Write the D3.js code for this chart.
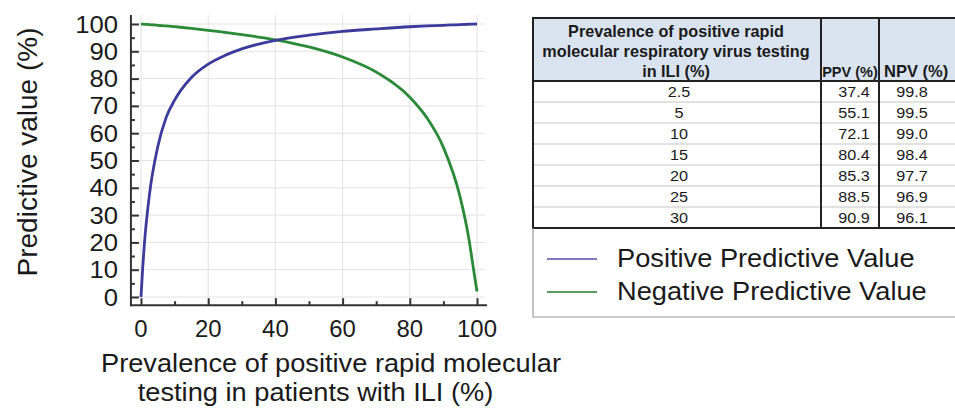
<!DOCTYPE html>
<html>
<head>
<meta charset="utf-8">
<script src="https://cdn.jsdelivr.net/npm/d3@7"></script>
<style>
  html, body { margin: 0; padding: 0; background: #fff; overflow: hidden; }
  svg { display: block; font-family: "Liberation Sans", Arial, sans-serif; }
</style>
</head>
<body>
<svg id="chart" width="955" height="412"></svg>
<script>
// ---- Data ----
const prevalence = [0, 0.5, 1, 2.5, 5, 7.5, 10, 15, 20, 25, 30, 40, 50, 60, 70, 80, 85, 90, 95, 97.5, 99, 100];
const ppvValues  = [0, 10.6, 19.3, 37.4, 55.1, 65.8, 72.1, 80.4, 85.3, 88.5, 90.9, 94.0, 95.9, 97.3, 98.2, 99.0, 99.3, 99.5, 99.8, 99.9, 99.95, 100];
const npvValues  = [100, 99.95, 99.9, 99.8, 99.5, 99.3, 99.0, 98.4, 97.7, 96.9, 96.1, 94.2, 91.6, 87.9, 82.4, 73.2, 65.8, 54.8, 36.5, 21.9, 9.9, 2];

const xTicks = [0, 20, 40, 60, 80, 100];
const yTicks = [0, 10, 20, 30, 40, 50, 60, 70, 80, 90, 100];

const tablePrevalence = ["2.5", "5", "10", "15", "20", "25", "30"];
const tablePPV = ["37.4", "55.1", "72.1", "80.4", "85.3", "88.5", "90.9"];
const tableNPV = ["99.8", "99.5", "99.0", "98.4", "97.7", "96.9", "96.1"];
const tableHeader = ["Prevalence of positive rapid", "molecular respiratory virus testing", "in ILI (%)"];

const seriesNames = ["Positive Predictive Value", "Negative Predictive Value"];
const seriesColors = ["#3b3b9c", "#2a8a38"];
const legendColors = ["#7c7ab8", "#5c9c5c"];

// ---- Chart ----
const svg = d3.select("#chart");
const x = d3.scaleLinear().domain([0, 100]).range([141, 477]);
const y = d3.scaleLinear().domain([0, 100]).range([297, 24]);
const axisX0 = x(-3), axisX1 = x(103);
const axisY0 = y(-3), axisY1 = y(103.3);

// grid
const grid = svg.append("g").attr("stroke", "#e3e3e3").attr("stroke-width", 1);
grid.selectAll("line.h").data(yTicks).join("line")
  .attr("x1", axisX0).attr("x2", axisX1 - 2)
  .attr("y1", d => y(d)).attr("y2", d => y(d));
grid.selectAll("line.v").data(xTicks).join("line")
  .attr("x1", d => x(d)).attr("x2", d => x(d))
  .attr("y1", axisY1).attr("y2", axisY0);

// axes lines
const axisColor = "#333";
svg.append("line").attr("x1", axisX0).attr("x2", axisX0).attr("y1", axisY1).attr("y2", axisY0 + 1)
  .attr("stroke", axisColor).attr("stroke-width", 2);
svg.append("line").attr("x1", axisX0 - 1).attr("x2", axisX1).attr("y1", axisY0).attr("y2", axisY0)
  .attr("stroke", axisColor).attr("stroke-width", 2);

// ticks via d3 axes
const yMajor = d3.axisRight(y).tickValues(yTicks).tickSize(8).tickFormat("");
const yMinor = d3.axisRight(y).tickValues(d3.range(5, 100, 10)).tickSize(4).tickFormat("");
const xMajor = d3.axisTop(x).tickValues(xTicks).tickSize(7).tickFormat("");
const xMinor = d3.axisTop(x).tickValues(d3.range(10, 100, 20)).tickSize(4).tickFormat("");
[[yMajor, `translate(${axisX0},0)`], [yMinor, `translate(${axisX0},0)`],
 [xMajor, `translate(0,${axisY0})`], [xMinor, `translate(0,${axisY0})`]].forEach(([ax, tr]) => {
  const g = svg.append("g").attr("transform", tr).call(ax);
  g.select(".domain").remove();
  g.selectAll(".tick line").attr("stroke", axisColor).attr("stroke-width", 2);
});

// helper for horizontally stretched text
function stext(parent, txt, px, py, size, anchor, sx, weight) {
  const g = parent.append("g").attr("transform", `translate(${px},${py}) scale(${sx},1)`);
  return g.append("text").text(txt).attr("font-size", size).attr("text-anchor", anchor)
    .attr("font-weight", weight || "normal").attr("fill", "#1a1a1a");
}

// tick labels
yTicks.forEach(t => stext(svg, String(t), 118, y(t) + 8.5, 24, "end", 1.07));
xTicks.forEach(t => stext(svg, String(t), x(t), 337, 23, "middle", 1.04));

// axis titles
svg.append("text").text("Predictive value (%)")
  .attr("transform", "translate(37,152) rotate(-90)")
  .attr("text-anchor", "middle").attr("font-size", 28).attr("fill", "#1a1a1a");
stext(svg, "Prevalence of positive rapid molecular", 331, 372, 25, "middle", 1.09);
stext(svg, "testing in patients with ILI (%)", 315.5, 401, 25, "middle", 1.09);

// curves
const pts = prevalence.map((p, i) => ({ p, ppv: ppvValues[i], npv: npvValues[i] }));
const lineP = d3.line().x(d => x(d.p)).y(d => y(d.ppv)).curve(d3.curveMonotoneX);
const lineN = d3.line().x(d => x(d.p)).y(d => y(d.npv)).curve(d3.curveMonotoneX);
svg.append("path").datum(pts).attr("d", lineN).attr("fill", "none")
  .attr("stroke", seriesColors[1]).attr("stroke-width", 2.8);
svg.append("path").datum(pts).attr("d", lineP).attr("fill", "none")
  .attr("stroke", seriesColors[0]).attr("stroke-width", 2.8);

// ---- Table ----
const T = { left: 533, top: 18, c1: 821, c2: 879, right: 964, headBottom: 81, rowH: 21 };
const tbl = svg.append("g");
tbl.append("rect").attr("x", T.left).attr("y", T.top).attr("width", T.right - T.left)
  .attr("height", T.headBottom - T.top).attr("fill", "#dae4f1");
const nRows = tablePrevalence.length;
const tableBottom = T.headBottom + nRows * T.rowH;
// row separators
tbl.selectAll("line.row").data(d3.range(1, nRows)).join("line")
  .attr("x1", T.left).attr("x2", T.right)
  .attr("y1", i => T.headBottom + i * T.rowH).attr("y2", i => T.headBottom + i * T.rowH)
  .attr("stroke", "#c4c4c4").attr("stroke-width", 1);
// header texts
tableHeader.forEach((t, i) => stext(tbl, t, (T.left + T.c1) / 2 - 1, 36.5 + i * 20.2, 15.8, "middle", 1.03, "bold"));
stext(tbl, "PPV (%)", (T.c1 + T.c2) / 2, 76.5, 14.5, "middle", 1.0, "bold");
stext(tbl, "NPV (%)", T.c2 + 5, 76.5, 16.5, "start", 1.0, "bold");
// rows
tablePrevalence.forEach((v, i) => {
  const by = T.headBottom + i * T.rowH + 16;
  stext(tbl, v, (T.left + T.c1) / 2 + 2, by, 15.3, "middle", 1.06);
  stext(tbl, tablePPV[i], (T.c1 + T.c2) / 2 + 4, by, 15.3, "middle", 1.06);
  stext(tbl, tableNPV[i], T.c2 + 33, by, 15.3, "middle", 1.06);
});
// borders
const dark = "#222";
tbl.append("rect").attr("x", T.left).attr("y", T.top).attr("width", T.right - T.left)
  .attr("height", tableBottom - T.top).attr("fill", "none").attr("stroke", dark).attr("stroke-width", 2);
tbl.append("line").attr("x1", T.left).attr("x2", T.right).attr("y1", T.headBottom).attr("y2", T.headBottom)
  .attr("stroke", dark).attr("stroke-width", 2);
[T.c1, T.c2].forEach(cx => tbl.append("line").attr("x1", cx).attr("x2", cx)
  .attr("y1", T.top).attr("y2", tableBottom).attr("stroke", dark).attr("stroke-width", 2));

// ---- Legend ----
const lg = svg.append("g");
lg.append("path").attr("d", `M${T.left},${tableBottom} V317 H${T.right}`)
  .attr("fill", "none").attr("stroke", "#9a9a9a").attr("stroke-width", 1.2);
const legY = [259, 292];
seriesNames.forEach((name, i) => {
  lg.append("line").attr("x1", 547).attr("x2", 597).attr("y1", legY[i]).attr("y2", legY[i])
    .attr("stroke", legendColors[i]).attr("stroke-width", 1.8);
  stext(lg, name, 617, legY[i] + 8, 25, "start", 1.09);
});
</script>
</body>
</html>
